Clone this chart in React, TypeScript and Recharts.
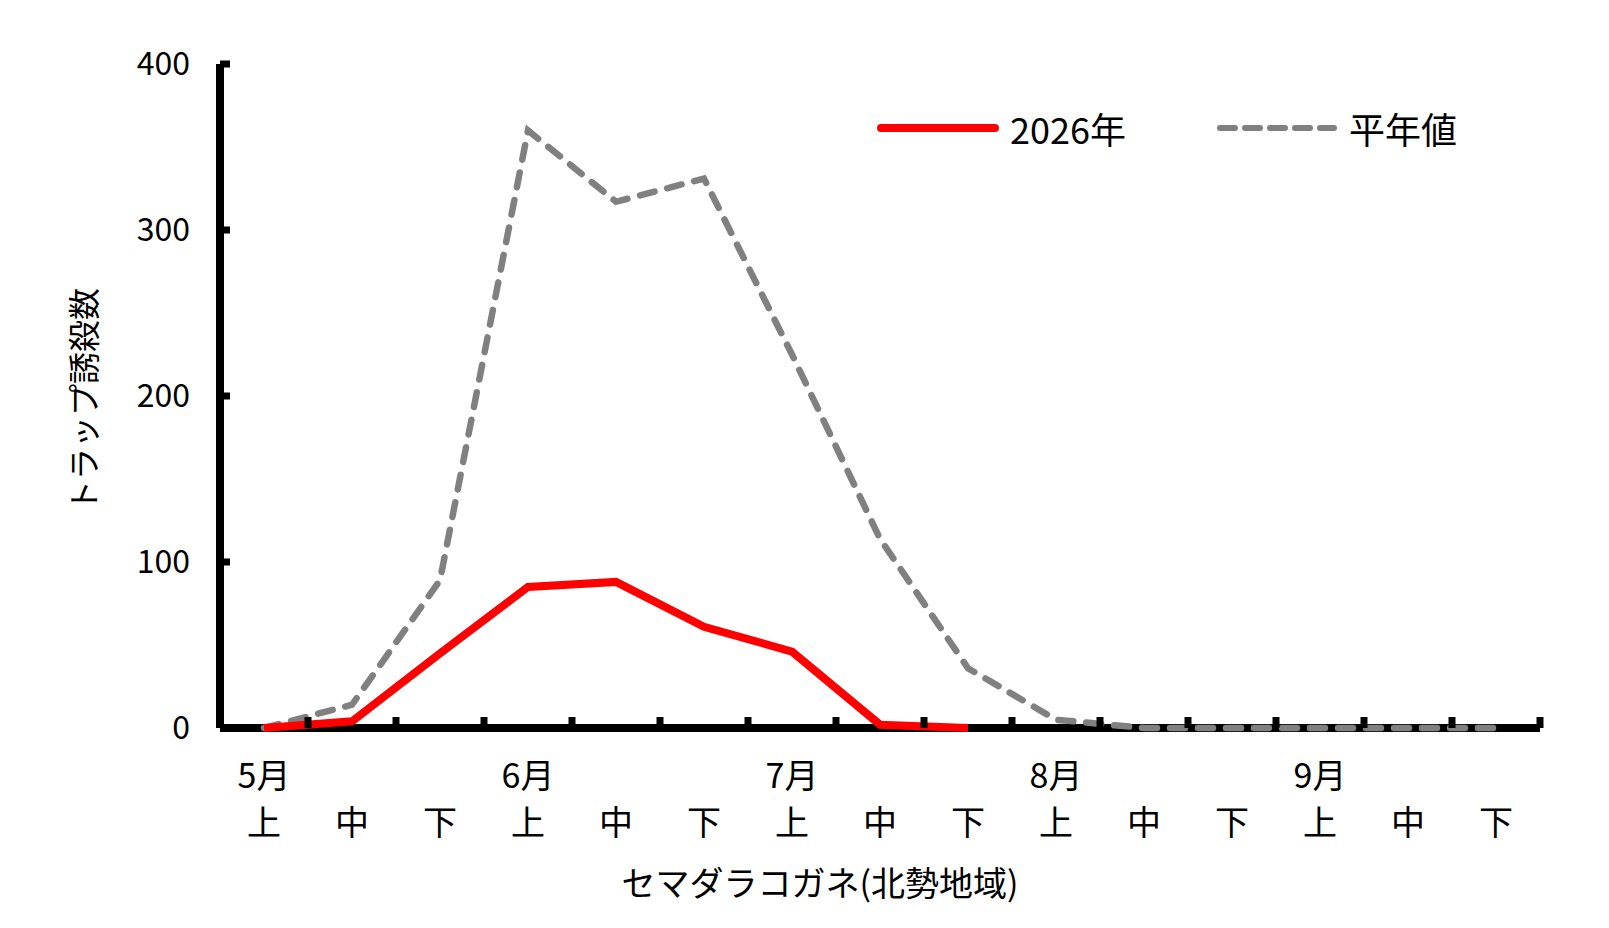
import { LineChart, Line, XAxis, YAxis, Legend, Label } from 'recharts';

const categories = [
  '5月上', '5月中', '5月下', '6月上', '6月中', '6月下', '7月上', '7月中', '7月下',
  '8月上', '8月中', '8月下', '9月上', '9月中', '9月下',
];
const monthLabels = ['5月', '', '', '6月', '', '', '7月', '', '', '8月', '', '', '9月', '', ''];
const periodLabels = ['上', '中', '下', '上', '中', '下', '上', '中', '下', '上', '中', '下', '上', '中', '下'];
const values2026 = [0, 4, 45, 85, 88, 61, 46, 2, 0, null, null, null, null, null, null];
const valuesNormal = [0, 14, 89, 360, 317, 331, 225, 114, 36, 5, 0, 0, 0, 0, 0];
const yTicks = [0, 100, 200, 300, 400];

const data = categories.map((name, i) => ({
  name,
  y2026: values2026[i],
  normal: valuesNormal[i],
}));

const FONT = '"Noto Sans CJK JP", "Noto Sans", sans-serif';
const HALF_BAND = 44;

const XTick = (props: any) => {
  const { x, y, index } = props;
  return (
    <g>
      <line x1={x + HALF_BAND} x2={x + HALF_BAND} y1={y} y2={y - 11} stroke="#000" strokeWidth={7} />
      {monthLabels[index] ? (
        <text x={x} y={y + 45} textAnchor="middle" dominantBaseline="central" fontSize={34} fill="#000">
          {monthLabels[index]}
        </text>
      ) : null}
      <text x={x} y={y + 92} textAnchor="middle" dominantBaseline="central" fontSize={34} fill="#000">
        {periodLabels[index]}
      </text>
    </g>
  );
};

const LegendBox = () => (
  <div style={{ position: 'relative', width: 600, height: 44, fontFamily: FONT, fontSize: 36, color: '#000' }}>
    <svg width={122} height={44} style={{ position: 'absolute', left: 0, top: 0 }}>
      <line x1={4} x2={118} y1={22} y2={22} stroke="#ff0000" strokeWidth={8} strokeLinecap="round" />
    </svg>
    <span style={{ position: 'absolute', left: 133, top: 0, lineHeight: '44px' }}>2026年</span>
    <svg width={122} height={44} style={{ position: 'absolute', left: 339, top: 0 }}>
      <line x1={4} x2={118} y1={22} y2={22} stroke="#808080" strokeWidth={6} strokeLinecap="round" strokeDasharray="15 10" />
    </svg>
    <span style={{ position: 'absolute', left: 472, top: 0, lineHeight: '44px' }}>平年値</span>
  </div>
);

export default function App() {
  return (
    <div style={{ fontFamily: FONT }}>
      <LineChart width={1590} height={910} data={data} margin={{ top: 56, right: 58, bottom: 0, left: 0 }}>
        <XAxis
          dataKey="name"
          height={190}
          padding={{ left: HALF_BAND, right: HALF_BAND }}
          axisLine={{ stroke: '#000', strokeWidth: 8 }}
          tickLine={false}
          tickSize={0}
          tickMargin={0}
          interval={0}
          tick={<XTick />}
        >
          <Label
            content={() => (
              <text x={812} y={873} textAnchor="middle" dominantBaseline="central" fontSize={34} fill="#000" fontFamily={FONT}>
                セマダラコガネ(北勢地域)
              </text>
            )}
          />
        </XAxis>
        <YAxis
          width={212}
          domain={[0, 400]}
          ticks={yTicks}
          interval={0}
          axisLine={{ stroke: '#000', strokeWidth: 8 }}
          tickLine={{ stroke: '#000', strokeWidth: 7 }}
          tickSize={-10}
          tickMargin={40}
          tick={{ fontSize: 32, fill: '#000', fontFamily: FONT }}
        >
          <Label
            content={() => (
              <text
                x={74}
                y={392}
                transform="rotate(-90 74 392)"
                textAnchor="middle"
                dominantBaseline="central"
                fontSize={32}
                fill="#000"
                fontFamily={FONT}
              >
                トラップ誘殺数
              </text>
            )}
          />
        </YAxis>
        <Legend
          layout="horizontal"
          verticalAlign="middle"
          align="center"
          content={<LegendBox />}
          wrapperStyle={{ position: 'absolute', left: 869, top: 98, width: 600 }}
        />
        <Line
          type="linear"
          dataKey="normal"
          name="平年値"
          stroke="#808080"
          strokeWidth={6.5}
          strokeDasharray="15 13"
          strokeLinecap="round"
          dot={false}
          activeDot={false}
          zIndex={600}
          isAnimationActive={false}
        />
        <Line
          type="linear"
          dataKey="y2026"
          name="2026年"
          stroke="#ff0000"
          strokeWidth={8}
          dot={false}
          activeDot={false}
          zIndex={610}
          isAnimationActive={false}
        />
      </LineChart>
    </div>
  );
}
